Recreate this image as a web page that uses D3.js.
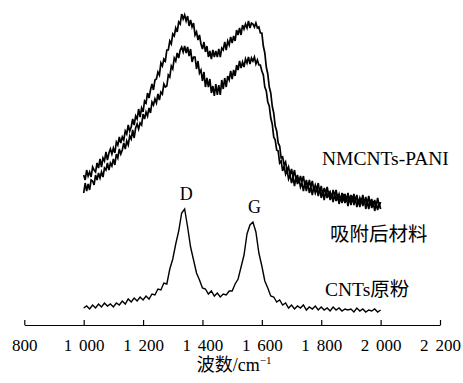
<!DOCTYPE html>
<html>
<head>
<meta charset="utf-8">
<script src="https://cdn.jsdelivr.net/npm/d3@7"></script>
<style>
  html, body { margin: 0; padding: 0; background: #fff; }
  svg { display: block; }
  text { font-family: "Liberation Serif", "Times New Roman", "Noto Sans CJK SC", serif; fill: #000; }
</style>
</head>
<body>
<svg id="chart" width="463" height="383"></svg>
<script>
// ---- data ----
const waveStart = 1000;
const fineStep = 5;     // sampling step of the two upper spectra (cm-1)
const coarseStep = 10;  // sampling step of the CNTs spectrum (cm-1)

// NMCNTs-PANI (upper spectrum), intensity a.u., 1000..2000 cm-1
const nmcntsPani = [
155,150,160,154,158,153,163,160,158,167,
162,171,163,172,169,178,170,177,181,176,
182,177,188,185,193,187,193,190,199,196,
205,199,203,211,205,214,211,221,213,222,
218,229,227,237,232,240,246,240,250,251,
258,255,267,264,271,269,280,280,289,286,
296,294,302,298,308,306,316,311,315,309,
314,304,310,303,307,295,298,290,295,286,
281,288,278,284,273,279,271,280,273,279,
273,281,273,282,280,288,280,289,285,293,
287,294,289,300,295,302,295,305,301,306,
302,309,302,307,306,303,307,302,303,297,
297,284,277,263,256,243,237,224,217,204,
199,187,184,172,173,165,168,159,163,155,
161,153,160,150,155,147,154,148,154,144,
150,142,150,143,149,140,145,140,147,137,
144,135,142,137,143,135,138,132,140,134,
140,132,136,129,137,131,136,129,137,129,
135,128,136,129,135,126,132,127,135,126,
133,126,134,125,131,123,130,124,132,124,128];

// 吸附后材料 (after adsorption)
const afterAdsorption = [
137,147,139,146,140,150,149,145,155,150,
157,152,158,153,162,160,167,160,167,164,
171,165,176,172,181,176,180,187,181,189,
185,194,191,200,192,202,206,201,207,205,
216,211,218,214,222,217,228,225,231,227,
236,230,238,236,246,243,244,255,253,264,
261,272,269,277,272,280,283,278,284,277,
283,274,281,268,273,273,261,269,257,260,
249,258,243,252,243,251,237,244,234,246,
235,245,235,250,241,252,243,254,250,259,
251,260,254,265,260,269,262,268,263,271,
267,273,266,272,269,273,266,270,265,265,
259,255,243,239,228,224,212,206,193,190,
180,179,167,169,159,164,156,160,151,155,
147,153,144,153,146,152,143,147,139,147,
139,147,137,143,135,143,137,142,134,142,
132,139,130,139,132,139,130,136,128,136,
129,136,126,133,127,136,127,133,124,133,
125,134,125,132,123,130,123,132,124,131,
121,129,121,130,122,129,119,126,120,127,121];

// CNTs原粉 (raw CNTs), 1000..2000 cm-1 step 10
const cntsRaw = [
22,24,21,25,22,26,23,27,24,26,
23,27,25,29,26,31,28,32,29,33,
30,34,31,36,35,41,40,47,46,61,
71,86,99,117,121,103,83,70,57,50,
42,41,36,39,34,37,33,36,35,39,
39,46,51,63,75,96,105,108,98,77,
64,49,42,34,33,28,30,25,27,22,
25,21,24,22,25,20,23,21,24,20,
23,20,22,19,23,20,22,19,21,20,
21,18,22,19,21,18,20,19,21,18,
20];

const seriesLabels = ["NMCNTs-PANI", "吸附后材料", "CNTs原粉"];
const peakNames = ["D", "G"];
const peakWaves = [1340, 1570];
const xTicks = [800, 1000, 1200, 1400, 1600, 1800, 2000, 2200];
const xTitle = "波数/cm";
const xTitleSup = "−1";

// ---- drawing ----
const svg = d3.select("#chart");
const W = 463, H = 383;
svg.append("rect").attr("width", W).attr("height", H).attr("fill", "#fff");

const x = d3.scaleLinear().domain([800, 2200]).range([24.3, 440]);
const y = d3.scaleLinear().domain([0, 320]).range([330, 10]);
const axisY = 325;

const toPts = (arr, step) => arr.map((v, i) => [waveStart + i * step, v]);
const line = d3.line().x(d => x(d[0])).y(d => y(d[1]));

const spectra = [
  toPts(nmcntsPani, fineStep),
  toPts(afterAdsorption, fineStep),
  toPts(cntsRaw, coarseStep)
];
const widths = [1.7, 1.7, 1.4];

svg.append("g").selectAll("path").data(spectra).join("path")
  .attr("d", line)
  .attr("fill", "none")
  .attr("stroke", "#000")
  .attr("stroke-width", (d, i) => widths[i])
  .attr("stroke-linejoin", "miter");

// axis
const fmt = d => d >= 1000 ? d3.format(",")(d).replace(",", "\u2009\u2009") : String(d);
const axis = d3.axisBottom(x).tickValues(xTicks).tickFormat(fmt)
  .tickSizeInner(-5).tickSizeOuter(0);
const gx = svg.append("g").attr("transform", `translate(0,${axisY})`).call(axis);
gx.attr("font-family", null);
gx.select(".domain").attr("stroke", "#000").attr("stroke-width", 1.2);
gx.selectAll(".tick line").attr("stroke", "#000").attr("stroke-width", 1.2);
gx.selectAll(".tick text")
  .attr("y", 14)
  .attr("font-size", 17)
  .attr("fill", "#000");

// axis title
const t = svg.append("text")
  .attr("x", x(1500) + 2)
  .attr("y", 371)
  .attr("text-anchor", "middle")
  .attr("font-size", 18);
t.append("tspan").text(xTitle);
t.append("tspan").attr("dy", -7).attr("font-size", 11).text(xTitleSup);

// peak labels
const cntsPeakVal = w => cntsRaw[Math.round((w - waveStart) / coarseStep)];
svg.append("g").selectAll("text").data(peakNames).join("text")
  .attr("x", (d, i) => x(peakWaves[i]) + 1.5)
  .attr("y", (d, i) => y(cntsPeakVal(peakWaves[i])) - 9)
  .attr("text-anchor", "middle")
  .attr("font-size", 18)
  .text(d => d);

// series labels
const labelPos = [[322, 165], [330, 241], [325, 296]];
svg.append("g").selectAll("text").data(seriesLabels).join("text")
  .attr("x", (d, i) => labelPos[i][0])
  .attr("y", (d, i) => labelPos[i][1])
  .attr("font-size", 19.5)
  .text(d => d);
</script>
</body>
</html>
